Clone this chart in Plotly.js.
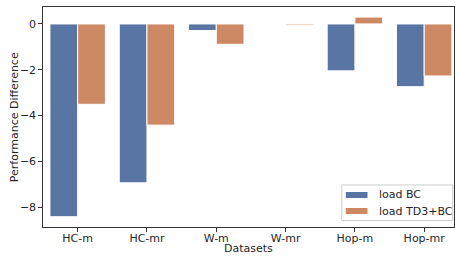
<!DOCTYPE html>
<html><head><meta charset="utf-8">
<script src="https://cdn.plot.ly/plotly-3.0.1.min.js"></script>
<style>html,body{margin:0;padding:0;background:#fff}#c{width:455px;height:257px}</style>
</head><body><div id="c"></div>
<script>
const categories = ["HC-m","HC-mr","W-m","W-mr","Hop-m","Hop-mr"];
const loadBC = [-8.42,-6.94,-0.29,0.02,-2.05,-2.74];
const loadTD3BC = [-3.51,-4.42,-0.89,-0.05,0.30,-2.27];
const seriesNames = ["load BC","load TD3+BC"];
const seriesColors = ["#5975a4","#cc8963"];
const yTicks = [0,-2,-4,-6,-8];
const yTickText = ["0","\u22122","\u22124","\u22126","\u22128"];
const xTitle = "Datasets";
const yTitle = "Performance Difference";

const fam = "DejaVu Sans, sans-serif";
const font = {family:fam, size:11, color:"#262626"};
const traces = [loadBC, loadTD3BC].map((vals, k) => ({
  type:"bar", x:categories.map((c,i)=>i), y:vals, name:seriesNames[k],
  marker:{color:seriesColors[k], line:{color:"#ffffff", width:1}}
}));

// matplotlib-style legend drawn in paper coordinates
const shapes = [
  {type:"rect", xref:"paper", yref:"paper", x0:0.727, x1:0.997, y0:0.029, y1:0.191,
   line:{color:"#cccccc", width:1}, fillcolor:"rgba(255,255,255,0.8)", layer:"above"}
];
const annotations = [];
const rowY = [0.1455, 0.0727];
seriesNames.forEach((n,k)=>{
  shapes.push({type:"rect", xref:"paper", yref:"paper", x0:0.7367, x1:0.7895,
    y0:rowY[k]-0.0136, y1:rowY[k]+0.0136, line:{width:0}, fillcolor:seriesColors[k], layer:"above"});
  annotations.push({xref:"paper", yref:"paper", x:0.8119, y:rowY[k], xanchor:"left", yanchor:"middle",
    text:n, showarrow:false, font:{family:fam, size:11, color:"#262626"}});
});
// axis titles
annotations.push({xref:"paper", yref:"paper", x:0.5, y:-0.096, xanchor:"center", yanchor:"middle",
  text:xTitle, showarrow:false, font:{family:fam, size:11, color:"#262626"}});
annotations.push({xref:"paper", yref:"paper", x:-0.07, y:0.5, xanchor:"center", yanchor:"middle",
  textangle:-90, text:yTitle, showarrow:false, font:{family:fam, size:11, color:"#262626"}});

const layout = {
  width:455, height:257,
  margin:{l:43, r:1, t:7, b:30},
  paper_bgcolor:"#fff", plot_bgcolor:"#fff",
  font:font,
  barmode:"group", bargap:0.2, bargroupgap:0,
  showlegend:false,
  shapes:shapes, annotations:annotations,
  xaxis:{range:[-0.5,5.43], tickmode:"array", tickvals:categories.map((c,i)=>i), ticktext:categories,
    showgrid:false, zeroline:false, showline:true, mirror:true, linecolor:"#333", linewidth:1.2,
    ticks:"outside", ticklen:3.5, tickcolor:"#333", ticklabelstandoff:-3},
  yaxis:{range:[-8.87,0.74], tickmode:"array", tickvals:yTicks, ticktext:yTickText,
    showgrid:false, zeroline:false, showline:true, mirror:true, linecolor:"#333", linewidth:1.2,
    ticks:"outside", ticklen:3.5, tickcolor:"#333"}
};
Plotly.newPlot("c", traces, layout, {displayModeBar:false, staticPlot:true});
</script></body></html>
